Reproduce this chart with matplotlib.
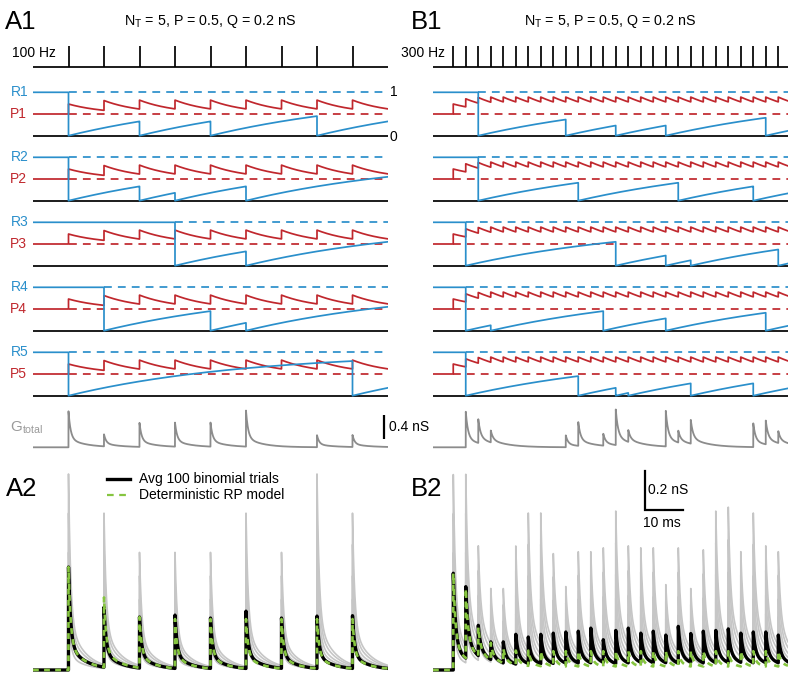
import numpy as np
import matplotlib
matplotlib.use("Agg")
import matplotlib.pyplot as plt
from matplotlib.lines import Line2D

plt.rcParams['font.family'] = ['Liberation Sans', 'DejaVu Sans']
plt.rcParams['mathtext.fontset'] = 'custom'
plt.rcParams['mathtext.rm'] = 'Liberation Sans'
plt.rcParams['mathtext.it'] = 'Liberation Sans:italic'

# ---------------- data ----------------
Q_NS = 0.2
P_BASE = 0.5
TAU_R_MS = 50.0      # recovery time constant of R
TAU_F_MS = 10.0      # decay time constant of P facilitation

A_STIM_MS = [10, 20, 30, 40, 50, 60, 70, 80, 90]
B_STIM_MS = [10.0, 13.33, 16.67, 20.0, 23.33, 26.67, 30.0, 33.33, 36.67, 40.0,
             43.33, 46.67, 50.0, 53.33, 56.67, 60.0, 63.33, 66.67, 70.0, 73.33,
             76.67, 80.0, 83.33, 86.67, 90.0, 93.33, 96.67]

# stimulus indices at which each of the 5 release sites released
A_RELEASES = [[0, 2, 4, 7], [0, 2, 3, 5], [3, 5], [1, 4, 5], [0, 8]]
B_RELEASES = [[2, 9, 13, 17, 25], [2, 10, 18, 24], [1, 13, 17, 19, 26],
              [1, 3, 12, 17, 25], [1, 10, 13, 14, 19, 24]]

# release probability right after each stimulus
A_P_AFTER = [0.73, 0.81, 0.82, 0.82, 0.82, 0.82, 0.82, 0.82, 0.82]
B_P_AFTER = [0.73, 0.85, 0.88, 0.89, 0.89, 0.89, 0.89, 0.89, 0.89, 0.89,
             0.89, 0.89, 0.89, 0.89, 0.89, 0.89, 0.89, 0.89, 0.89, 0.89,
             0.89, 0.89, 0.89, 0.89, 0.89, 0.89, 0.89]

# peak conductances (nS) in A2 / B2
A_GRAY_PEAK = [1.0, 0.8, 0.6, 0.6, 0.6, 0.8, 0.6, 1.0, 0.8]
A_AVG_PEAK = [0.525, 0.32, 0.27, 0.28, 0.265, 0.30, 0.265, 0.275, 0.277]
A_DET_PEAK = [0.525, 0.37, 0.27, 0.26, 0.26, 0.26, 0.26, 0.26, 0.26]

B_GRAY_PEAK = [1.01, 1.01, 0.64, 0.42, 0.42, 0.64, 0.81, 0.81, 0.60, 0.43,
               0.61, 0.61, 0.63, 0.82, 0.64, 0.63, 0.63, 0.44, 0.63, 0.42,
               0.62, 0.82, 0.84, 0.61, 0.81, 0.64, 0.61]
B_AVG_PEAK = [0.50, 0.43, 0.23, 0.145, 0.145, 0.184, 0.17, 0.184, 0.19, 0.196,
              0.20, 0.216, 0.156, 0.204, 0.216, 0.19, 0.20, 0.18, 0.225, 0.188,
              0.20, 0.204, 0.212, 0.19, 0.196, 0.196, 0.18]
B_DET_PEAK = [0.50, 0.42, 0.22, 0.14, 0.11, 0.10, 0.10, 0.097, 0.097, 0.097,
              0.097, 0.097, 0.097, 0.097, 0.097, 0.097, 0.097, 0.097, 0.097, 0.097,
              0.097, 0.097, 0.097, 0.097, 0.097, 0.097, 0.097]

GRAY_FRACTIONS = [1.0, 0.8, 0.6, 0.45, 0.3]

# ---------------- style ----------------
BLUE = '#2a8fcb'
RED = '#c0272d'
GTOT = '#8c8c8c'
LGRAY = '#c6c6c6'
GREEN = '#86c540'

W, H = 800, 682
fig = plt.figure(figsize=(W / 100, H / 100), dpi=100)


def px_ax(x0, x1, ytop, ybot, xlim, y0px, ppu):
    ax = fig.add_axes([x0 / W, 1 - ybot / H, (x1 - x0) / W, (ybot - ytop) / H])
    ax.set_xlim(*xlim)
    ax.set_ylim((y0px - ybot) / ppu, (y0px - ytop) / ppu)
    ax.axis('off')
    return ax


def ftext(x, y, s, **kw):
    kw.setdefault('va', 'center')
    kw.setdefault('ha', 'left')
    fig.text(x / W, 1 - y / H, s, **kw)


def kern(t):
    t = np.asarray(t, dtype=float)
    tc = np.clip(t, 0, None)
    k = 0.75 * np.exp(-tc / 0.6) + 0.25 * np.exp(-tc / 4.5)
    return np.where(t >= 0, k, 0.0)


def amps_from_peaks(stims, peaks):
    amps = []
    for i, (ti, pk) in enumerate(zip(stims, peaks)):
        res = sum(a * float(kern(ti - tj)) for a, tj in zip(amps, stims[:i]))
        amps.append(max(pk - res, 0.0))
    return amps


def cond_trace(t, stims, amps):
    g = np.zeros_like(t)
    for ts, a in zip(stims, amps):
        g += a * kern(t - ts)
    return g


cols = {
    'A': dict(x0=33, x1=388, xlim=(0, 100), stims=A_STIM_MS, rel=A_RELEASES,
              pa=A_P_AFTER, gray=A_GRAY_PEAK, avg=A_AVG_PEAK, det=A_DET_PEAK),
    'B': dict(x0=433, x1=788, xlim=(4.6, 4.6 + 355 / 3.75), stims=B_STIM_MS, rel=B_RELEASES,
              pa=B_P_AFTER, gray=B_GRAY_PEAK, avg=B_AVG_PEAK, det=B_DET_PEAK),
}

LW = 1.25
DASH = (0, (4.5, 3.5))

for key, c in cols.items():
    x0, x1, xlim, stims = c['x0'], c['x1'], c['xlim'], c['stims']
    t0, t1 = xlim

    # stimulus ticks
    ax = px_ax(x0, x1, 40, 72, xlim, 66.7, 20.7)
    ax.vlines(stims, 0, 1, color='k', lw=LW)
    ax.hlines(0, t0, t1, color='k', lw=LW)

    # P trace (same for all sites)
    pt, pv = [t0, stims[0]], [P_BASE, P_BASE]
    for i, ts in enumerate(stims):
        tn = stims[i + 1] if i + 1 < len(stims) else t1
        tt = np.linspace(ts, tn, 120)
        pt.extend(tt)
        pv.extend(P_BASE + (c['pa'][i] - P_BASE) * np.exp(-(tt - ts) / TAU_F_MS))

    # release sites
    for s in range(5):
        y1 = 92.3 + 65 * s
        y0 = 135.7 + 65 * s
        ax = px_ax(x0, x1, y1 - 8, y0 + 4, xlim, y0, y0 - y1)
        rel_t = [stims[k] for k in c['rel'][s]]
        ax.hlines(0, t0, t1, color='k', lw=LW)
        ax.plot([rel_t[0], t1], [1, 1], color=BLUE, lw=LW, ls=DASH)
        ax.plot([stims[0], t1], [P_BASE, P_BASE], color=RED, lw=LW, ls=DASH)
        ax.plot(pt, pv, color=RED, lw=LW)
        rt, rv = [t0, rel_t[0]], [1.0, 1.0]
        for i, tr in enumerate(rel_t):
            tn = rel_t[i + 1] if i + 1 < len(rel_t) else t1
            tt = np.linspace(tr, tn, 150)
            rt.extend(tt)
            rv.extend(1 - np.exp(-(tt - tr) / TAU_R_MS))
        ax.plot(rt, rv, color=BLUE, lw=LW)
        if key == 'A':
            ftext(11, y1, 'R%d' % (s + 1), color=BLUE, fontsize=10)
            ftext(10, (y1 + y0) / 2, 'P%d' % (s + 1), color=RED, fontsize=10)

    # G total
    t = np.arange(t0, t1, 0.01)
    counts = [sum(1 for r in c['rel'] if k in r) for k in range(len(stims))]
    ax = px_ax(x0, x1, 400, 452, xlim, 447.3, 60)
    ax.plot(t, cond_trace(t, stims, [n * Q_NS for n in counts]), color=GTOT, lw=1.3)
    if key == 'A':
        tb = t0 + (383.5 - x0) / 3.55
        ax.plot([tb, tb], [0.14, 0.54], color='k', lw=1.6, solid_capstyle='butt')

    # bottom panel
    ax = px_ax(x0, x1, 455, 680, xlim, 670, 196)
    for f in GRAY_FRACTIONS:
        pk = [f * v for v in c['gray']]
        ax.plot(t, cond_trace(t, stims, amps_from_peaks(stims, pk)), color=LGRAY, lw=1.2)
    ax.plot(t, cond_trace(t, stims, amps_from_peaks(stims, c['avg'])), color='k', lw=2.4)
    ax.plot(t, cond_trace(t, stims, amps_from_peaks(stims, c['det'])), color=GREEN,
            lw=1.9, ls=(0, (2.2, 2.0)))
    if key == 'B':
        tb = t0 + (645 - x0) / 3.75
        yb = (670 - 510) / 196
        ax.plot([tb, tb, tb + 10], [yb + 0.2, yb, yb], color='k', lw=1.6,
                solid_joinstyle='miter')

# ---------------- texts ----------------
ftext(5, 22, 'A1', fontsize=18.5)
ftext(411, 22, 'B1', fontsize=18.5)
ftext(6, 489, 'A2', fontsize=18.5)
ftext(411, 489, 'B2', fontsize=18.5)
title = r'N$_\mathrm{T}$ = 5, P = 0.5, Q = 0.2 nS'
ftext(210, 22, title, fontsize=10.3, ha='center')
ftext(610, 22, title, fontsize=10.3, ha='center')
ftext(12, 53, '100 Hz', fontsize=10)
ftext(401, 53, '300 Hz', fontsize=10)
ftext(390, 92, '1', fontsize=10)
ftext(390, 137, '0', fontsize=10)
ftext(10, 428, r'G$_\mathrm{total}$', fontsize=11, color='#9a9a9a')
ftext(389, 427, '0.4 nS', fontsize=10)
ftext(648, 490, '0.2 nS', fontsize=10)
ftext(643, 523, '10 ms', fontsize=10)

# legend in A2
fig.add_artist(Line2D([107 / W, 130 / W], [1 - 479.3 / H] * 2, transform=fig.transFigure,
                      color='k', lw=2.4))
fig.add_artist(Line2D([107 / W, 130 / W], [1 - 495 / H] * 2, transform=fig.transFigure,
                      color=GREEN, lw=1.6, ls=(0, (3, 2.5))))
ftext(139, 479.3, 'Avg 100 binomial trials', fontsize=10)
ftext(139, 495, 'Deterministic RP model', fontsize=10)

fig.savefig('out.png', dpi=100)
